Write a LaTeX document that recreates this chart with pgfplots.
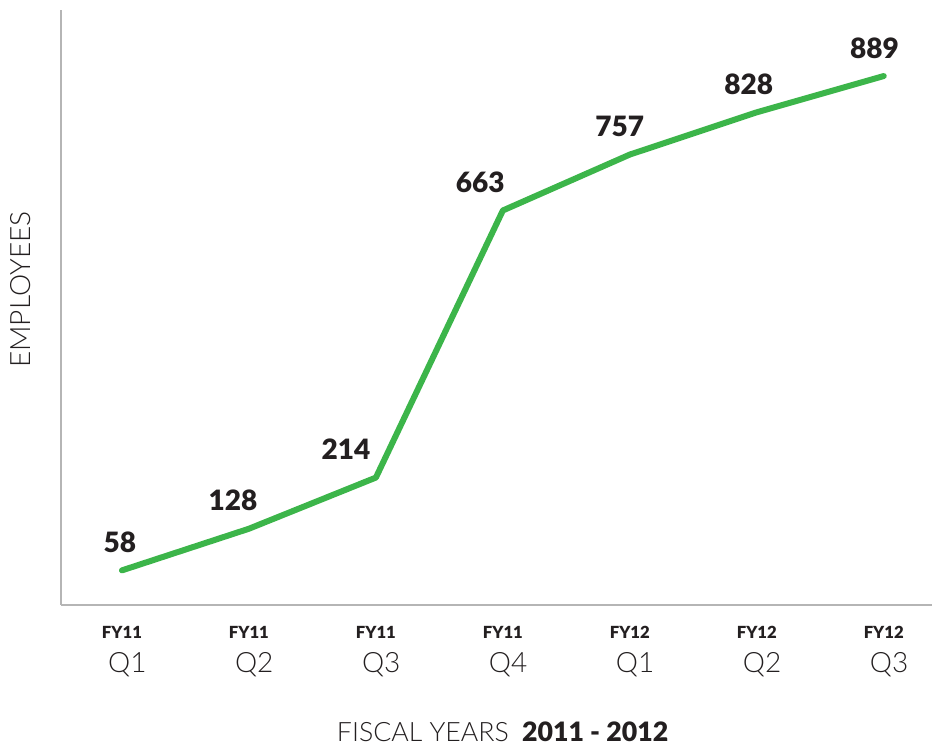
\documentclass[border=0pt]{standalone}
\usepackage{fontspec}
\setmainfont{Lato}
\newfontfamily\lightfont{Lato Light}
\newfontfamily\heavyfont{Lato Black}
\usepackage{pgfplots}
\pgfplotsset{compat=1.18}
\definecolor{linegreen}{HTML}{3CB54A}
\definecolor{axisgray}{HTML}{B5B5B5}
\definecolor{txt}{HTML}{231F20}
\newcommand{\tl}[2]{{\fontsize{12.5}{14}\selectfont\heavyfont #1}\\[9pt]{\lightfont\fontsize{21}{24}\selectfont\hspace*{8pt}#2}}
\begin{document}
\begin{tikzpicture}
\begin{axis}[
    name=main,
    scale only axis,
    width=653pt, height=446pt,
    xmin=-0.48, xmax=6.38,
    ymin=0, ymax=1000,
    axis x line=bottom, axis y line=left,
    axis line style={-, draw=axisgray, line width=1.3pt},
    xtick={0,1,2,3,4,5,6},
    xticklabels={\tl{FY11}{Q1},\tl{FY11}{Q2},\tl{FY11}{Q3},\tl{FY11}{Q4},\tl{FY12}{Q1},\tl{FY12}{Q2},\tl{FY12}{Q3}},
    xticklabel style={align=center, text=txt, inner sep=0pt, yshift=-16pt},
    major tick length=0pt,
    ytick=\empty,
    xlabel={{\lightfont FISCAL YEARS}\hspace{0.5em}{\heavyfont 2011 - 2012}},
    xlabel style={at={(rel axis cs:0.507,0)}, anchor=center, yshift=-95pt, font=\fontsize{20}{24}\selectfont, text=txt},
    ylabel={\lightfont EMPLOYEES},
    ylabel style={at={(rel axis cs:0,0.53)}, anchor=center, yshift=30pt, font=\fontsize{21}{24}\selectfont, text=txt},
    clip=false,
    visualization depends on={\thisrow{dx} \as \dx},
    nodes near coords={\heavyfont\pgfmathprintnumber[assume math mode=true]{\pgfplotspointmeta}},
    nodes near coords style={anchor=center, xshift=\dx pt, yshift=21pt, font=\fontsize{21}{24}\selectfont, text=txt},
]
\addplot[linegreen, line width=4.5pt, line cap=round, line join=round, mark=none] table[x=x, y=y] {
x y dx
0 58 -1.5
1 128 -12
2 214 -22.5
3 663 -17
4 757 -7.5
5 828 -6
6 889 -7
};
\end{axis}
\pgfresetboundingbox
\path ([xshift=-45.75pt, yshift=-108pt]main.south west) rectangle ([yshift=7.5pt]main.north east);
\end{tikzpicture}
\end{document}
